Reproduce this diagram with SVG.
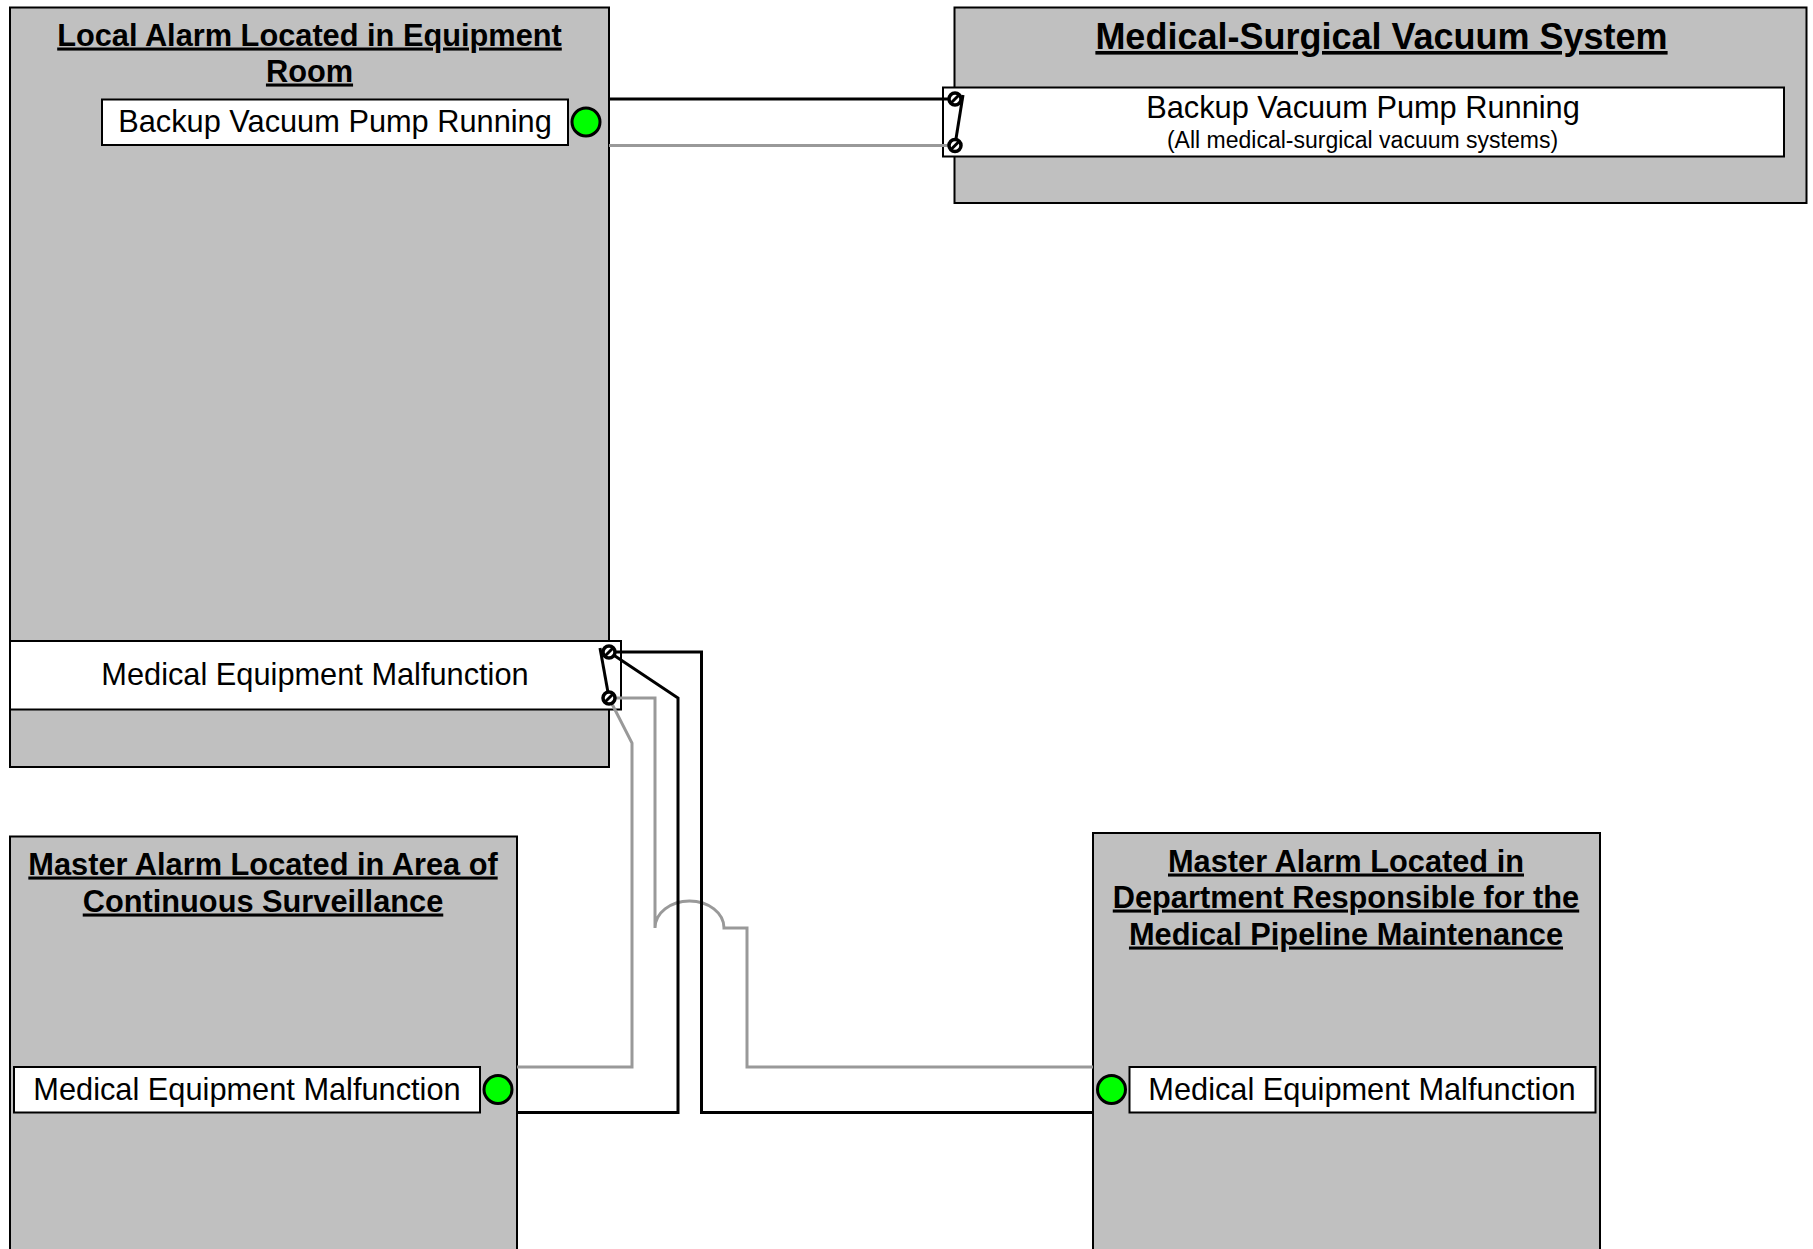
<svg xmlns="http://www.w3.org/2000/svg" width="1813" height="1249" viewBox="0 0 1813 1249">
<style>
text{font-family:"Liberation Sans",Arial,sans-serif;fill:#000;text-anchor:middle}
.panel{fill:#c0c0c0;stroke:#000;stroke-width:2}
.label{fill:#fff;stroke:#000;stroke-width:2}
.lamp{fill:#0f0;stroke:#000;stroke-width:3}
.title{font-weight:bold;font-size:30.750px;text-decoration:underline}
.big{font-weight:bold;font-size:36px;text-decoration:underline}
.t{font-size:30.750px}
.s{font-size:23px}
.w{fill:none;stroke-linejoin:miter}
.bk{stroke:#000;stroke-width:3}
.gr{stroke:#999;stroke-width:3}
.term{fill:#fff;stroke:#000;stroke-width:3.500}
.sw{fill:none;stroke:#000;stroke-width:3}
</style>
<rect width="1813" height="1249" fill="#fff"/>
<g id="local-alarm">
<rect class="panel" x="10" y="7.500" width="599" height="759.500"/>
<text class="title" x="309.500" y="45.500">Local Alarm Located in Equipment</text>
<text class="title" x="309.500" y="81.500">Room</text>
<rect class="label" x="102" y="99.500" width="466" height="45.500"/>
<text class="t" x="335" y="131.500">Backup Vacuum Pump Running</text>
<circle class="lamp" cx="586" cy="122" r="14"/>
<rect class="label" x="10" y="641" width="611" height="68.500"/>
<text class="t" x="315" y="684.500">Medical Equipment Malfunction</text>
</g>
<g id="vacuum-system">
<rect class="panel" x="954.500" y="7.500" width="852" height="195.500"/>
<text class="big" x="1381.500" y="49">Medical-Surgical Vacuum System</text>
<rect class="label" x="943" y="87.500" width="841" height="69"/>
<text class="t" x="1363" y="117.500">Backup Vacuum Pump Running</text>
<text class="s" x="1362.500" y="148">(All medical-surgical vacuum systems)</text>
</g>
<g id="master-left">
<rect class="panel" x="10" y="836.500" width="507" height="430"/>
<text class="title" x="263" y="874.500">Master Alarm Located in Area of</text>
<text class="title" x="263" y="911.500">Continuous Surveillance</text>
<rect class="label" x="14" y="1067" width="466" height="45.500"/>
<text class="t" x="247" y="1099.500">Medical Equipment Malfunction</text>
<circle class="lamp" cx="498" cy="1089.500" r="14"/>
</g>
<g id="master-right">
<rect class="panel" x="1093" y="833" width="507" height="430"/>
<text class="title" x="1346" y="871.500">Master Alarm Located in</text>
<text class="title" x="1346" y="907.500">Department Responsible for the</text>
<text class="title" x="1346" y="944.500">Medical Pipeline Maintenance</text>
<rect class="label" x="1129.500" y="1067" width="466" height="45.500"/>
<text class="t" x="1362" y="1099.500">Medical Equipment Malfunction</text>
<circle class="lamp" cx="1111.500" cy="1089.500" r="14"/>
</g>
<g id="connectors">
<path class="w gr" d="M609 145.500H955"/>
<path class="w bk" d="M609 99H955"/>
<path class="w gr" d="M609 698L632 743V1067H517"/>
<path class="w gr" d="M609 698H655V928A34.500 27 0 0 1 724 928H747V1067H1093"/>
<path class="w bk" d="M609 652H701.500V1112.500H1093"/>
<path class="w bk" d="M609 652L678 698V1112.500H517"/>
</g>
<g id="switch-top">
<path class="sw" d="M963 95L955 145"/>
<circle class="term" cx="955" cy="99" r="6"/><path class="sw" d="M951 103L959 95"/>
<circle class="term" cx="955" cy="145.500" r="6"/><path class="sw" d="M951 149.500L959 141.500"/>
</g>
<g id="switch-bottom">
<path class="sw" d="M600 648L609 698"/>
<circle class="term" cx="609" cy="652" r="6"/><path class="sw" d="M605 656L613 648"/>
<circle class="term" cx="609" cy="698" r="6"/><path class="sw" d="M605 702L613 694"/>
</g>
</svg>
